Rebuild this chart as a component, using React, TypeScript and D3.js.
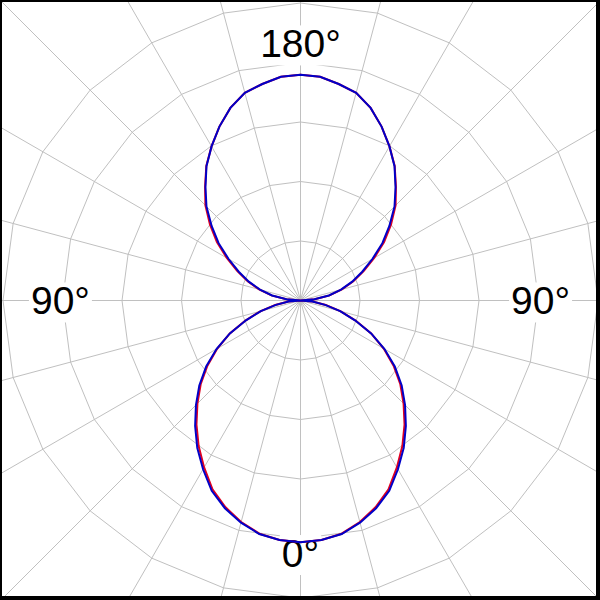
import React, { useEffect, useRef } from "react";
import * as d3 from "d3";

// Angles in degrees measured from the bottom (0°) of the plot
const angles: number[] = d3.range(0, 360, 5);

// Measured pattern (blue) – normalized radius
const blueR: number[] = [
  0.813, 0.808, 0.797, 0.773, 0.743, 0.706, 0.655, 0.605, 0.551, 0.497, 0.444, 0.387,
  0.326, 0.262, 0.195, 0.138, 0.084, 0.040, 0.0, 0.047, 0.097, 0.141, 0.185, 0.229,
  0.279, 0.336, 0.390, 0.447, 0.497, 0.551, 0.598, 0.645, 0.689, 0.723, 0.739, 0.755,
  0.759, 0.755, 0.739, 0.723, 0.689, 0.645, 0.598, 0.551, 0.497, 0.447, 0.390, 0.336,
  0.279, 0.229, 0.185, 0.141, 0.097, 0.047, 0.0, 0.040, 0.084, 0.138, 0.195, 0.262,
  0.326, 0.387, 0.444, 0.497, 0.551, 0.605, 0.655, 0.706, 0.743, 0.773, 0.797, 0.808,
];

// Reference pattern (red) – normalized radius
const redR: number[] = [
  0.813, 0.808, 0.796, 0.771, 0.739, 0.700, 0.648, 0.597, 0.544, 0.490, 0.438, 0.382,
  0.323, 0.262, 0.197, 0.140, 0.086, 0.041, 0.0, 0.048, 0.099, 0.144, 0.189, 0.235,
  0.286, 0.343, 0.397, 0.452, 0.499, 0.552, 0.598, 0.645, 0.689, 0.723, 0.739, 0.755,
  0.759, 0.755, 0.739, 0.723, 0.689, 0.645, 0.598, 0.552, 0.499, 0.452, 0.397, 0.343,
  0.286, 0.235, 0.189, 0.144, 0.099, 0.048, 0.0, 0.041, 0.086, 0.140, 0.197, 0.262,
  0.323, 0.382, 0.438, 0.490, 0.544, 0.597, 0.648, 0.700, 0.739, 0.771, 0.796, 0.808,
];

const ringValues: number[] = [0.2, 0.4, 0.6, 0.8, 1.0];
const spokeAngles: number[] = d3.range(0, 360, 15);
const angleLabels: { text: string; angle: number; rad: number }[] = [
  { text: "0°", angle: 0, rad: 0.849 },
  { text: "90°", angle: 90, rad: 0.807 },
  { text: "180°", angle: 180, rad: 0.864 },
  { text: "90°", angle: 270, rad: 0.807 },
];

const W = 600;
const H = 600;

export default function App() {
  const ref = useRef<SVGSVGElement | null>(null);

  useEffect(() => {
    const svg = d3.select(ref.current);
    svg.selectAll("*").remove();

    const cx = 300.5;
    const cy = 300.5;
    const r = d3.scaleLinear().domain([0, 1]).range([0, 297.5]);
    const toRad = (deg: number) => (deg * Math.PI) / 180;
    // screen angle for d3.lineRadial: 0 = up, clockwise; data 0° = bottom
    const scr = (deg: number) => Math.PI + toRad(deg);

    // border
    svg.append("rect").attr("x", 0).attr("y", 0).attr("width", W).attr("height", H).attr("fill", "#000");
    svg.append("rect").attr("x", 2).attr("y", 2).attr("width", 594).attr("height", 594).attr("fill", "#fff");

    const clipId = "plotclip";
    svg.append("defs").append("clipPath").attr("id", clipId)
      .append("rect").attr("x", 2).attr("y", 2).attr("width", 594).attr("height", 594);

    const g = svg.append("g").attr("clip-path", `url(#${clipId})`)
      .append("g").attr("transform", `translate(${cx},${cy})`);

    // spokes
    g.selectAll("line.spoke").data(spokeAngles).join("line")
      .attr("class", "spoke")
      .attr("x1", 0).attr("y1", 0)
      .attr("x2", (d) => 460 * Math.sin(scr(d)))
      .attr("y2", (d) => -460 * Math.cos(scr(d)))
      .attr("stroke", "#c0c0c0").attr("stroke-width", 1);

    // rings (polygons through spokes)
    const ringLine = d3.lineRadial<number>()
      .angle((d) => scr(d))
      .curve(d3.curveLinearClosed);
    g.selectAll("path.ring").data(ringValues).join("path")
      .attr("class", "ring")
      .attr("d", (v) => ringLine.radius(() => r(v))(spokeAngles) as string)
      .attr("fill", "none").attr("stroke", "#c0c0c0").attr("stroke-width", 1);

    // label backgrounds + labels
    const fs = 39;
    const labelPos = (d: { angle: number; rad: number }) => {
      const rr = r(d.rad);
      return { x: rr * Math.sin(scr(d.angle)), y: -rr * Math.cos(scr(d.angle)) + fs * 0.358 };
    };
    const lg = g.append("g");
    const texts = lg.selectAll("text").data(angleLabels).join("text")
      .attr("x", (d) => labelPos(d).x)
      .attr("y", (d) => labelPos(d).y)
      .attr("text-anchor", "middle")
      .attr("font-family", "Arial, 'Liberation Sans', sans-serif")
      .attr("font-size", fs)
      .attr("fill", "#000")
      .text((d) => d.text);
    texts.each(function () {
      const bb = (this as SVGTextElement).getBBox();
      lg.insert("rect", "text")
        .attr("x", bb.x - 2).attr("y", bb.y + 3)
        .attr("width", bb.width + 4).attr("height", bb.height - 3)
        .attr("fill", "#fff");
    });

    // curves
    const curve = d3.lineRadial<number>()
      .angle((_, i) => scr(angles[i]))
      .curve(d3.curveLinearClosed);
    g.append("path")
      .attr("d", curve.radius((d) => r(d))(redR) as string)
      .attr("fill", "none").attr("stroke", "#e00020").attr("stroke-width", 2);
    g.append("path")
      .attr("d", curve.radius((d) => r(d))(blueR) as string)
      .attr("fill", "none").attr("stroke", "#0000c8").attr("stroke-width", 2);

    // bring label text on top
    texts.raise();
  }, []);

  return (
    <svg
      ref={ref}
      width={W}
      height={H}
      style={{ position: "absolute", left: 0, top: 0, display: "block" }}
    />
  );
}
